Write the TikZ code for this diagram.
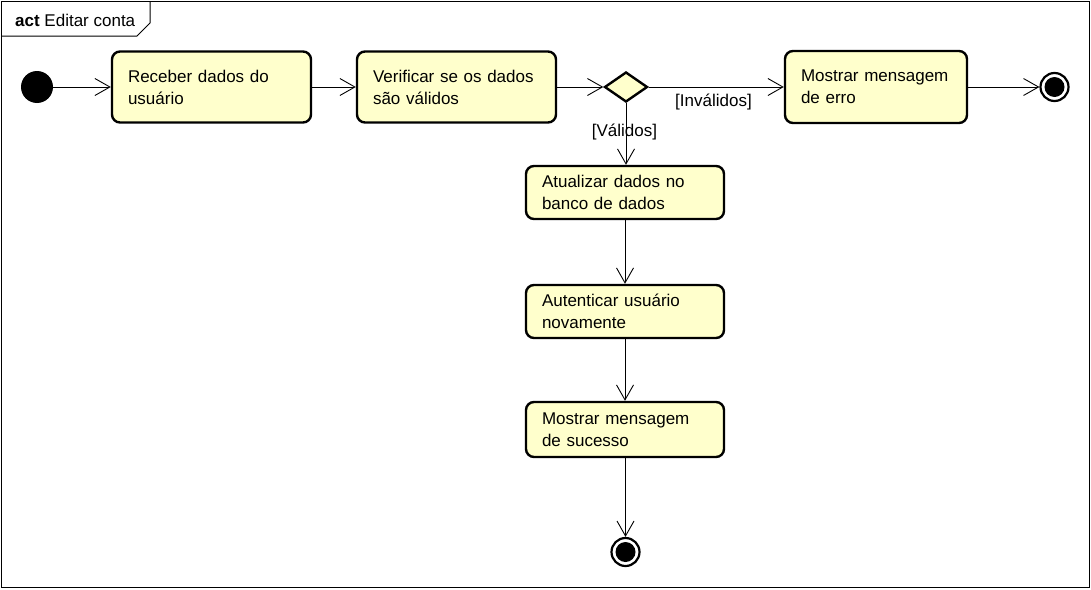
\documentclass[tikz,border=0pt]{standalone}
\usepackage{fontspec}
\setmainfont{Liberation Sans}
\usetikzlibrary{shapes.geometric,arrows.meta}
\definecolor{actfill}{RGB}{255,255,204}
\tikzset{
  actbox/.style={draw=black, line width=2.4pt, rounded corners=8pt, fill=actfill,
    align=left, inner xsep=16pt, inner ysep=0pt, font=\fontsize{17}{22}\selectfont},
  flow/.style={draw=black, line width=0.9pt, -{Straight Barb[length=15pt,width=17pt,line width=0.9pt]}},
  guard/.style={font=\fontsize{17}{20}\selectfont, inner sep=0pt},
}
\begin{document}
\begin{tikzpicture}[x=1pt,y=-1pt]
\useasboundingbox (0,0) rectangle (1091,589);
% frame
\draw[line width=1pt] (1,1) rectangle (1089,587);
\draw[line width=1pt] (1,36) -- (137,36) -- (150,23) -- (150,1);
\node[anchor=west, inner sep=0pt, font=\fontsize{17}{20}\selectfont] (title) at (15,20) {\textbf{act} Editar conta};
% nodes
\node[circle, fill=black, minimum size=32pt, inner sep=0pt] (start) at (37,87) {};
\node[actbox, text width=167pt, minimum height=71pt] (b1) at (211.5,87) {Receber dados do\\usuário};
\node[actbox, text width=167pt, minimum height=71pt] (b2) at (456.5,87) {Verificar se os dados\\são válidos};
\node[diamond, draw=black, line width=2.4pt, fill=actfill, minimum width=43pt, minimum height=30pt, inner sep=0pt] (dec) at (626,87) {};
\node[actbox, text width=150pt, minimum height=72pt] (b3) at (876,87) {Mostrar mensagem\\de erro};
\node[circle, draw=black, line width=2.2pt, fill=white, minimum size=28pt, inner sep=0pt] (end1) at (1054.5,87) {};
\fill[black] (end1.center) circle (10pt);
\node[actbox, text width=166pt, minimum height=53pt] (b4) at (625,192.5) {Atualizar dados no\\banco de dados};
\node[actbox, text width=166pt, minimum height=53pt] (b5) at (625,311.5) {Autenticar usuário\\novamente};
\node[actbox, text width=166pt, minimum height=55pt] (b6) at (625,429.5) {Mostrar mensagem\\de sucesso};
\node[circle, draw=black, line width=2.2pt, fill=white, minimum size=28pt, inner sep=0pt] (end2) at (625.5,552) {};
\fill[black] (end2.center) circle (10pt);
% connectors
\draw[flow] (start) -- (b1);
\draw[flow] (b1) -- (b2);
\draw[flow] (b2) -- (dec);
\draw[flow] (dec) -- (b3);
\draw[flow] (b3) -- (end1);
\draw[flow] (dec.south) -- (dec.south |- b4.north);
\draw[flow] (b4) -- (b5);
\draw[flow] (b5) -- (b6);
\draw[flow] (b6.south -| end2) -- (end2);
% guards
\node[guard] (ginv) at (713.5,102) {[Inválidos]};
\node[guard] (gval) at (624.5,132) {[Válidos]};
\end{tikzpicture}
\end{document}
